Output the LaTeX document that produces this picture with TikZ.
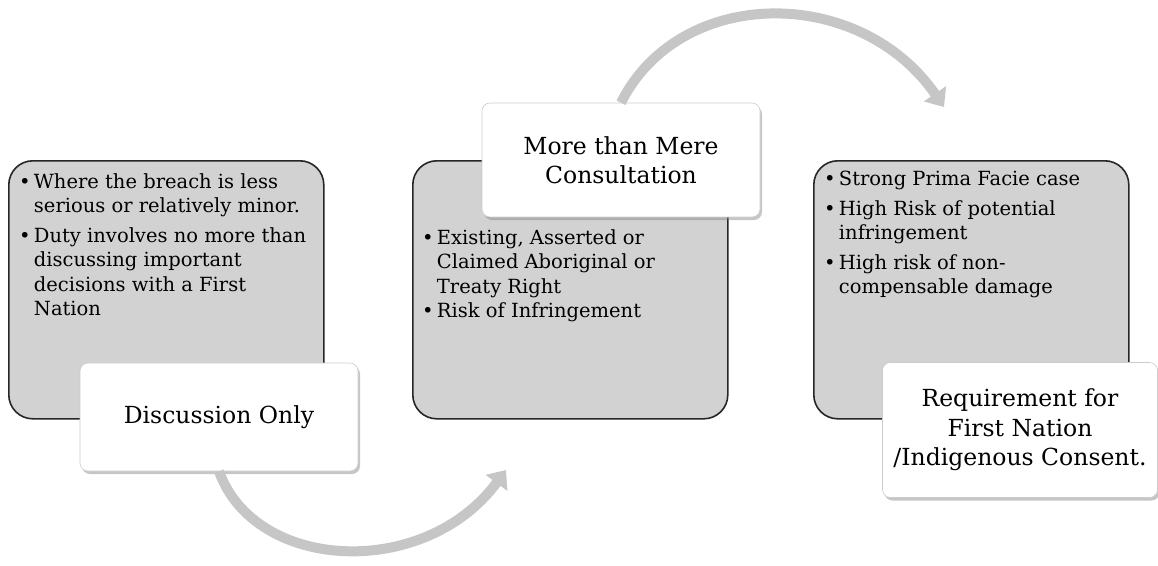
\documentclass[tikz,border=0pt]{standalone}
\usepackage{fontspec}
\setmainfont{DejaVu Serif}
\usepackage{tikz}
\usetikzlibrary{arrows.meta,shadows}

\begin{document}
\begin{tikzpicture}[
  x=1pt,y=-1pt,
  graybox/.style={draw=black!85,line width=1.6pt,fill=gray!35,rounded corners=24pt,
    minimum width=315pt,minimum height=258pt,anchor=north west,inner sep=0pt},
  bullets/.style={anchor=north west,inner sep=0pt,align=left,
    font=\fontsize{19.5}{24.5}\selectfont},
  titlebox/.style={draw=gray!40,fill=white,rounded corners=8pt,line width=0.6pt,
    drop shadow={opacity=0.45,shadow xshift=2pt,shadow yshift=-3pt},
    minimum width=278pt,inner sep=0pt,align=center,
    font=\fontsize{23.5}{29.5}\selectfont},
  bigarrow/.style={line width=10pt,draw=gray!45,
    -{Triangle[length=16pt,width=26pt]}},
]
\useasboundingbox (0,0) rectangle (1158,565);

% the three stages
\node[graybox] (weak) at (8,160) {};
\node[graybox] (mid) at (412,160) {};
\node[graybox] (strong) at (813,160) {};

\node[bullets] (weaktxt) at (19,173) {\textbullet\,Where the breach is less\\
  \hphantom{\textbullet\,}serious or relatively minor.\\[5pt]
  \textbullet\,Duty involves no more than\\
  \hphantom{\textbullet\,}discussing important\\
  \hphantom{\textbullet\,}decisions with a First\\
  \hphantom{\textbullet\,}Nation};
\node[bullets] (midtxt) at (422,229) {\textbullet\,Existing, Asserted or\\
  \hphantom{\textbullet\,}Claimed Aboriginal or\\
  \hphantom{\textbullet\,}Treaty Right\\
  \textbullet\,Risk of Infringement};
\node[bullets] (strongtxt) at (824,171) {\textbullet\,Strong Prima Facie case\\[5pt]
  \textbullet\,High Risk of potential\\
  \hphantom{\textbullet\,}infringement\\[5pt]
  \textbullet\,High risk of non-\\
  \hphantom{\textbullet\,}compensable damage};

% the labels
\node[titlebox,minimum height=108pt] (disc) at (219,417) {Discussion Only};
\node[titlebox,minimum height=114pt] (cons) at (621,160) {More than Mere\\Consultation};
\node[titlebox,minimum height=135pt,minimum width=275pt] (consent) at (1020,430)
  {Requirement for\\First Nation\\/Indigenous Consent.};

% arrows between them
\coordinate (tipA) at (506,470);
\coordinate (tipB) at (944,107);
\draw[bigarrow] (disc.south) .. controls (255,572) and (425,580) .. (tipA);
\draw[bigarrow] (cons.north) .. controls (680,-15) and (860,-15) .. (tipB);
\end{tikzpicture}
\end{document}
